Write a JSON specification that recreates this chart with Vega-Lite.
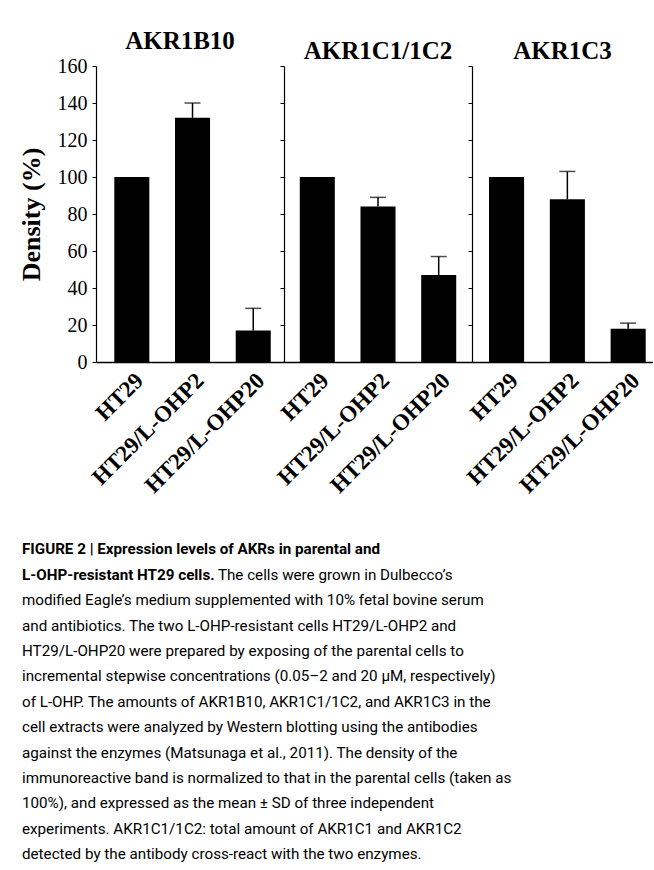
{
  "$schema": "https://vega.github.io/schema/vega-lite/v6.json",
  "background": "white",
  "padding": {"left": 18, "top": 29, "right": 0, "bottom": 8},
  "autosize": {"type": "pad"},
  "datasets": {
    "dens": [
      {"enzyme": "AKR1B10", "cell": "HT29", "density": 100, "upper": null},
      {"enzyme": "AKR1B10", "cell": "HT29/L-OHP2", "density": 132, "upper": 140},
      {"enzyme": "AKR1B10", "cell": "HT29/L-OHP20", "density": 17, "upper": 29},
      {"enzyme": "AKR1C1/1C2", "cell": "HT29", "density": 100, "upper": null},
      {"enzyme": "AKR1C1/1C2", "cell": "HT29/L-OHP2", "density": 84, "upper": 89},
      {"enzyme": "AKR1C1/1C2", "cell": "HT29/L-OHP20", "density": 47, "upper": 57},
      {"enzyme": "AKR1C3", "cell": "HT29", "density": 100, "upper": null},
      {"enzyme": "AKR1C3", "cell": "HT29/L-OHP2", "density": 88, "upper": 103},
      {"enzyme": "AKR1C3", "cell": "HT29/L-OHP20", "density": 18, "upper": 21}
    ]
  },
  "title": {
    "text": ["FIGURE 2 | Expression levels of AKRs in parental and", "L-OHP-resistant HT29 cells."],
    "subtitle": [
      "\u200b\u00a0\u00a0\u00a0\u00a0\u00a0\u00a0\u00a0\u00a0\u00a0\u00a0\u00a0\u00a0\u00a0\u00a0\u00a0\u00a0\u00a0\u00a0\u00a0\u00a0\u00a0\u00a0\u00a0\u00a0\u00a0\u00a0\u00a0\u00a0\u00a0\u00a0\u00a0\u00a0\u00a0\u00a0\u00a0\u00a0\u00a0\u00a0\u00a0\u00a0\u00a0\u00a0\u00a0\u00a0\u00a0\u00a0\u00a0\u00a0\u00a0\u00a0\u00a0\u00a0The cells were grown in Dulbecco’s",
      "modified Eagle’s medium supplemented with 10% fetal bovine serum",
      "and antibiotics. The two L-OHP-resistant cells HT29/L-OHP2 and",
      "HT29/L-OHP20 were prepared by exposing of the parental cells to",
      "incremental stepwise concentrations (0.05–2 and 20 μM, respectively)",
      "of L-OHP. The amounts of AKR1B10, AKR1C1/1C2, and AKR1C3 in the",
      "cell extracts were analyzed by Western blotting using the antibodies",
      "against the enzymes (Matsunaga et al., 2011). The density of the",
      "immunoreactive band is normalized to that in the parental cells (taken as",
      "100%), and expressed as the mean ± SD of three independent",
      "experiments. AKR1C1/1C2: total amount of AKR1C1 and AKR1C2",
      "detected by the antibody cross-react with the two enzymes."
    ],
    "orient": "bottom",
    "anchor": "start",
    "frame": "bounds",
    "dx": 4,
    "offset": 45,
    "font": "Roboto",
    "fontSize": 15.2,
    "fontWeight": "bold",
    "lineHeight": 25.4,
    "color": "black",
    "subtitleFont": "Roboto",
    "subtitleFontSize": 15.2,
    "subtitleFontWeight": "normal",
    "subtitleLineHeight": 25.4,
    "subtitleColor": "black",
    "subtitlePadding": -15.2
  },
  "spacing": 0,
  "bounds": "flush",
  "hconcat": [
    {
      "width": 188,
      "height": 296,
      "title": {"text": "AKR1B10", "font": "Liberation Serif", "fontSize": 25, "fontWeight": "bold", "color": "black", "offset": 2, "dx": -10},
      "data": {"name": "dens"},
      "transform": [{"filter": "datum.enzyme === 'AKR1B10'"}],
      "encoding": {
        "x": {
          "field": "cell", "type": "nominal",
          "sort": ["HT29", "HT29/L-OHP2", "HT29/L-OHP20"],
          "scale": {"paddingInner": 0.423, "paddingOuter": 0.26, "align": 0.58},
          "axis": {"title": null, "labelAngle": -45, "labelFont": "Liberation Serif", "labelFontWeight": "bold", "labelFontSize": 23, "ticks": false, "labelPadding": 7, "labelLimit": 300, "domainWidth": 1.5, "domainColor": "black", "labelColor": "black"}
        }
      },
      "layer": [
        {
          "mark": {"type": "bar", "color": "black"},
          "encoding": {
            "y": {"field": "density", "type": "quantitative", "scale": {"domain": [0, 160]},
              "axis": {"title": "Density (%)", "titleFont": "Liberation Serif", "titleFontSize": 26, "titleFontWeight": "bold", "titleColor": "black", "titlePadding": 13, "labelFont": "Liberation Serif", "labelFontSize": 20, "labelColor": "black", "labelPadding": 5, "labelOverlap": false, "tickSize": 4, "tickColor": "black", "domainColor": "black", "domainWidth": 1.2, "grid": false, "values": [0, 20, 40, 60, 80, 100, 120, 140, 160]}}
          }
        },
        {
          "transform": [{"filter": "datum.upper != null"}],
          "mark": {"type": "rule", "color": "black", "strokeWidth": 1.5},
          "encoding": {
            "y": {"field": "density", "type": "quantitative", "scale": {"domain": [0, 160]},
              "axis": {"title": "Density (%)", "titleFont": "Liberation Serif", "titleFontSize": 26, "titleFontWeight": "bold", "titleColor": "black", "titlePadding": 13, "labelFont": "Liberation Serif", "labelFontSize": 20, "labelColor": "black", "labelPadding": 5, "labelOverlap": false, "tickSize": 4, "tickColor": "black", "domainColor": "black", "domainWidth": 1.2, "grid": false, "values": [0, 20, 40, 60, 80, 100, 120, 140, 160]}},
            "y2": {"field": "upper"}
          }
        },
        {
          "transform": [{"filter": "datum.upper != null"}],
          "mark": {"type": "tick", "color": "black", "thickness": 1.5, "size": 16},
          "encoding": {
            "y": {"field": "upper", "type": "quantitative", "scale": {"domain": [0, 160]},
              "axis": {"title": "Density (%)", "titleFont": "Liberation Serif", "titleFontSize": 26, "titleFontWeight": "bold", "titleColor": "black", "titlePadding": 13, "labelFont": "Liberation Serif", "labelFontSize": 20, "labelColor": "black", "labelPadding": 5, "labelOverlap": false, "tickSize": 4, "tickColor": "black", "domainColor": "black", "domainWidth": 1.2, "grid": false, "values": [0, 20, 40, 60, 80, 100, 120, 140, 160]}}
          }
        }
      ]
    },
    {
      "width": 188,
      "height": 296,
      "title": {"text": "AKR1C1/1C2", "font": "Liberation Serif", "fontSize": 25, "fontWeight": "bold", "color": "black", "offset": 2},
      "data": {"name": "dens"},
      "transform": [{"filter": "datum.enzyme === 'AKR1C1/1C2'"}],
      "encoding": {
        "x": {
          "field": "cell", "type": "nominal",
          "sort": ["HT29", "HT29/L-OHP2", "HT29/L-OHP20"],
          "scale": {"paddingInner": 0.423, "paddingOuter": 0.26, "align": 0.5},
          "axis": {"title": null, "labelAngle": -45, "labelFont": "Liberation Serif", "labelFontWeight": "bold", "labelFontSize": 23, "ticks": false, "labelPadding": 7, "labelLimit": 300, "domainWidth": 1.5, "domainColor": "black", "labelColor": "black"}
        }
      },
      "layer": [
        {
          "mark": {"type": "bar", "color": "black"},
          "encoding": {
            "y": {"field": "density", "type": "quantitative", "scale": {"domain": [0, 160]},
              "axis": {"title": null, "labels": false, "tickSize": 4, "tickColor": "black", "domainColor": "black", "domainWidth": 1.2, "grid": false, "values": [0, 20, 40, 60, 80, 100, 120, 140, 160]}}
          }
        },
        {
          "transform": [{"filter": "datum.upper != null"}],
          "mark": {"type": "rule", "color": "black", "strokeWidth": 1.5},
          "encoding": {
            "y": {"field": "density", "type": "quantitative", "scale": {"domain": [0, 160]},
              "axis": {"title": null, "labels": false, "tickSize": 4, "tickColor": "black", "domainColor": "black", "domainWidth": 1.2, "grid": false, "values": [0, 20, 40, 60, 80, 100, 120, 140, 160]}},
            "y2": {"field": "upper"}
          }
        },
        {
          "transform": [{"filter": "datum.upper != null"}],
          "mark": {"type": "tick", "color": "black", "thickness": 1.5, "size": 16},
          "encoding": {
            "y": {"field": "upper", "type": "quantitative", "scale": {"domain": [0, 160]},
              "axis": {"title": null, "labels": false, "tickSize": 4, "tickColor": "black", "domainColor": "black", "domainWidth": 1.2, "grid": false, "values": [0, 20, 40, 60, 80, 100, 120, 140, 160]}}
          }
        }
      ]
    },
    {
      "width": 181,
      "height": 296,
      "title": {"text": "AKR1C3", "font": "Liberation Serif", "fontSize": 25, "fontWeight": "bold", "color": "black", "offset": 2},
      "data": {"name": "dens"},
      "transform": [{"filter": "datum.enzyme === 'AKR1C3'"}],
      "encoding": {
        "x": {
          "field": "cell", "type": "nominal",
          "sort": ["HT29", "HT29/L-OHP2", "HT29/L-OHP20"],
          "scale": {"paddingInner": 0.423, "paddingOuter": 0.2, "align": 0.7},
          "axis": {"title": null, "labelAngle": -45, "labelFont": "Liberation Serif", "labelFontWeight": "bold", "labelFontSize": 23, "ticks": false, "labelPadding": 7, "labelLimit": 300, "domainWidth": 1.5, "domainColor": "black", "labelColor": "black"}
        }
      },
      "layer": [
        {
          "mark": {"type": "bar", "color": "black"},
          "encoding": {
            "y": {"field": "density", "type": "quantitative", "scale": {"domain": [0, 160]},
              "axis": {"title": null, "labels": false, "tickSize": 4, "tickColor": "black", "domainColor": "black", "domainWidth": 1.2, "grid": false, "values": [0, 20, 40, 60, 80, 100, 120, 140, 160]}}
          }
        },
        {
          "transform": [{"filter": "datum.upper != null"}],
          "mark": {"type": "rule", "color": "black", "strokeWidth": 1.5},
          "encoding": {
            "y": {"field": "density", "type": "quantitative", "scale": {"domain": [0, 160]},
              "axis": {"title": null, "labels": false, "tickSize": 4, "tickColor": "black", "domainColor": "black", "domainWidth": 1.2, "grid": false, "values": [0, 20, 40, 60, 80, 100, 120, 140, 160]}},
            "y2": {"field": "upper"}
          }
        },
        {
          "transform": [{"filter": "datum.upper != null"}],
          "mark": {"type": "tick", "color": "black", "thickness": 1.5, "size": 16},
          "encoding": {
            "y": {"field": "upper", "type": "quantitative", "scale": {"domain": [0, 160]},
              "axis": {"title": null, "labels": false, "tickSize": 4, "tickColor": "black", "domainColor": "black", "domainWidth": 1.2, "grid": false, "values": [0, 20, 40, 60, 80, 100, 120, 140, 160]}}
          }
        }
      ]
    }
  ],
  "config": {
    "view": {"stroke": null},
    "axis": {"grid": false}
  }
}
